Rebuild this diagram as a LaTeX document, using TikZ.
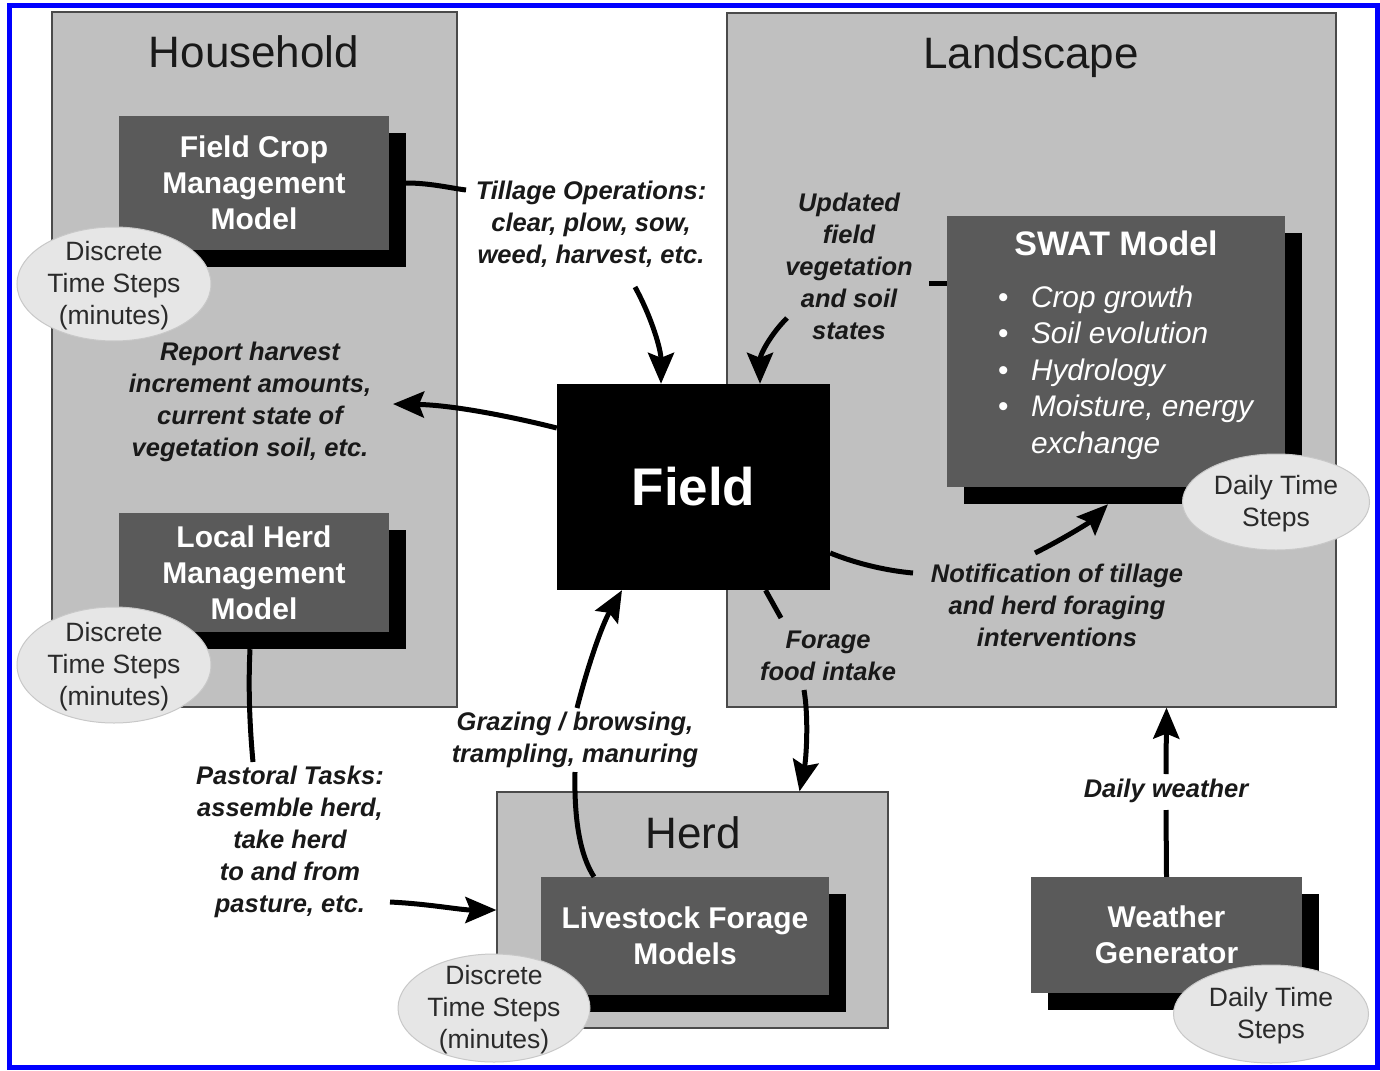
\documentclass[tikz,border=0pt]{standalone}
\usepackage{fontspec}
\setmainfont{Liberation Sans}
\usetikzlibrary{shadows,arrows.meta,shapes.geometric}
\definecolor{boxgray}{HTML}{C0C0C0}
\definecolor{boxedge}{HTML}{4A4A4A}
\definecolor{modelgray}{HTML}{5A5A5A}
\definecolor{ellfill}{HTML}{E6E6E6}
\definecolor{elledge}{HTML}{C8C8C8}
\definecolor{frameblue}{HTML}{0000FF}
\definecolor{txtdark}{HTML}{2A2A2A}
\newcommand\fsz[2]{\fontsize{#1}{#2}\selectfont}
\newcommand\ctext[1]{\makebox[0pt]{\smash{\raisebox{-0.32em}{\begin{tabular}{@{}c@{}}#1\end{tabular}}}}}
\begin{document}
\begin{tikzpicture}[x=1pt,y=-1pt,
 bigbox/.style={draw=boxedge, fill=boxgray, line width=1.2pt, inner sep=0pt, rectangle},
 title/.style={font=\fsz{44}{50}, inner sep=0pt, text=black!90, anchor=base},
 model/.style={fill=modelgray, text=white, font=\fsz{30}{36}\bfseries, align=center, inner sep=0pt,
   drop shadow={opacity=1, shadow xshift=17pt, shadow yshift=-17pt, fill=black}},
 tstep/.style={ellipse, fill=ellfill, draw=elledge, line width=1pt, inner sep=0pt, text=txtdark, font=\fsz{26.5}{32}},
 lbl/.style={font=\fsz{25.5}{32}\bfseries\itshape, align=center, inner sep=2pt, text=black!90},
 conn/.style={line width=5pt, black},
 arr/.style={conn, -{Stealth[length=31pt,width=26pt,inset=5pt]}}
]
\useasboundingbox (0,0) rectangle (1380,1070);
\fill[white] (0,0) rectangle (1380,1070);
\draw[frameblue, line width=5pt] (9,6) rectangle (1377,1067);

% big boxes
\node[bigbox, minimum width=405pt, minimum height=695pt] (household) at (254.5,359.5) {};
\node[bigbox, minimum width=609pt, minimum height=694pt] (landscape) at (1031.5,360) {};
\node[bigbox, minimum width=391pt, minimum height=236pt] (herd) at (692.5,910) {};
\node[title] (householdT) at (254,68) {Household};
\node[title] (landscapeT) at (1031,69) {Landscape};
\node[title] (herdT) at (693,848) {Herd};

% models
\node[model, minimum width=270pt, minimum height=134pt] (fcm) at (254,183) {Field Crop\\Management\\Model};
\node[model, minimum width=270pt, minimum height=119pt] (lhm) at (254,572.5) {Local Herd\\Management\\Model};
\node[model, minimum width=288pt, minimum height=118pt] (lfm) at (685,936) {Livestock Forage\\Models};
\node[model, minimum width=271pt, minimum height=116pt] (wg) at (1166.5,935) {Weather\\Generator};
\node[model, minimum width=338pt, minimum height=271pt, align=left] (swat) at (1116,351.5)
 {\raisebox{0pt}[0pt][0pt]{\begin{minipage}{338pt}\fsz{29.8}{36.5}\mdseries
  \centering{\fsz{34}{36.5}\bfseries SWAT Model}\par\vspace{15pt}\raggedright
  \hspace*{51pt}\makebox[33pt][l]{\textbullet}\textit{Crop growth}\par
  \hspace*{51pt}\makebox[33pt][l]{\textbullet}\textit{Soil evolution}\par
  \hspace*{51pt}\makebox[33pt][l]{\textbullet}\textit{Hydrology}\par
  \hspace*{51pt}\makebox[33pt][l]{\textbullet}\textit{Moisture, energy}\par
  \hspace*{84pt}\textit{exchange}\par
  \end{minipage}}};

% field
\node[fill=black, text=white, font=\fsz{53}{60}\bfseries, minimum width=273pt, minimum height=206pt, inner sep=0pt] (field) at (693.5,487) {Field};

% time step ellipses
\node[tstep, minimum width=194pt, minimum height=114pt] (ts1) at (114,284) {\ctext{Discrete\\Time Steps\\(minutes)}};
\node[tstep, minimum width=194pt, minimum height=116pt] (ts2) at (114,665) {\ctext{Discrete\\Time Steps\\(minutes)}};
\node[tstep, minimum width=192pt, minimum height=108pt] (ts3) at (494,1008) {\ctext{Discrete\\Time Steps\\(minutes)}};
\node[tstep, minimum width=187pt, minimum height=96pt] (ts4) at (1276,502) {\ctext{Daily Time\\Steps}};
\node[tstep, minimum width=195pt, minimum height=98pt] (ts5) at (1271,1014) {\ctext{Daily Time\\Steps}};

% labels
\node[lbl] (tillage) at (591,224) {Tillage Operations:\\clear, plow, sow,\\weed, harvest, etc.};
\node[lbl] (updated) at (849,266) {Updated\\field\\vegetation\\and soil\\states};
\node[lbl] (report) at (250,402) {Report harvest\\increment amounts,\\current state of\\vegetation soil, etc.};
\node[lbl] (notif) at (1057,605) {Notification of tillage\\and herd foraging\\interventions};
\node[lbl] (forage) at (828,656) {Forage\\food intake};
\node[lbl] (grazing) at (575,740) {Grazing / browsing,\\trampling, manuring};
\node[lbl] (pastoral) at (290,842) {Pastoral Tasks:\\assemble herd,\\take herd\\to and from\\pasture, etc.};
\node[lbl] (weather) at (1166,791) {Daily weather};

% connector ends
\coordinate (tillIn) at (466,190);
\coordinate (tillOut) at (635,287);
\coordinate (updStub) at (929,283);
\coordinate (updOut) at (787,318);
\coordinate (reportIn) at (393,404);
\coordinate (notifIn) at (913,573);
\coordinate (notifOut) at (1035,553);
\coordinate (forageIn) at (781,618);
\coordinate (forageOut) at (804,690);
\coordinate (grazeIn) at (575,772);
\coordinate (grazeOut) at (577,708);
\coordinate (pastIn) at (253,762);
\coordinate (pastOut) at (390,902);
\coordinate (wxIn) at (1166,810);
\coordinate (wxOut) at (1166,774);

% connectors
\draw[conn] ([xshift=17pt]fcm.east) .. controls (430,183) and (450,188) .. (tillIn);
\draw[arr] (tillOut) .. controls (652,318) and (661,350) .. ([xshift=-32.5pt]field.north);
\draw[conn] (updStub) -- (swat.west |- updStub);
\draw[arr] (updOut) .. controls (770,335) and (760,355) .. ([xshift=66.5pt]field.north);
\draw[arr] ([yshift=59pt]field.west) .. controls (505,415) and (450,405) .. (reportIn);
\draw[conn] ([yshift=-66pt]field.east) .. controls (860,565) and (890,571) .. (notifIn);
\draw[arr] (notifOut) .. controls (1065,538) and (1090,522) .. ([xshift=-8pt,yshift=-17pt]swat.south);
\draw[conn] ([xshift=72pt]field.south) -- (forageIn);
\draw[arr] (forageOut) .. controls (809,720) and (806,760) .. ([xshift=107pt]herd.north);
\draw[conn] ([xshift=-91pt]lfm.north) .. controls (580,855) and (574,820) .. (grazeIn);
\draw[arr] (grazeOut) .. controls (588,665) and (602,625) .. ([xshift=-71.5pt]field.south);
\draw[conn] ([xshift=-4pt,yshift=-17pt]lhm.south) .. controls (248,690) and (250,730) .. (pastIn);
\draw[arr] (pastOut) .. controls (430,904) and (460,910) .. (herd.west);
\draw[conn] (wg.north) -- (wxIn);
\draw[arr] (wxOut) -- (wg.north |- landscape.south);
\end{tikzpicture}
\end{document}
